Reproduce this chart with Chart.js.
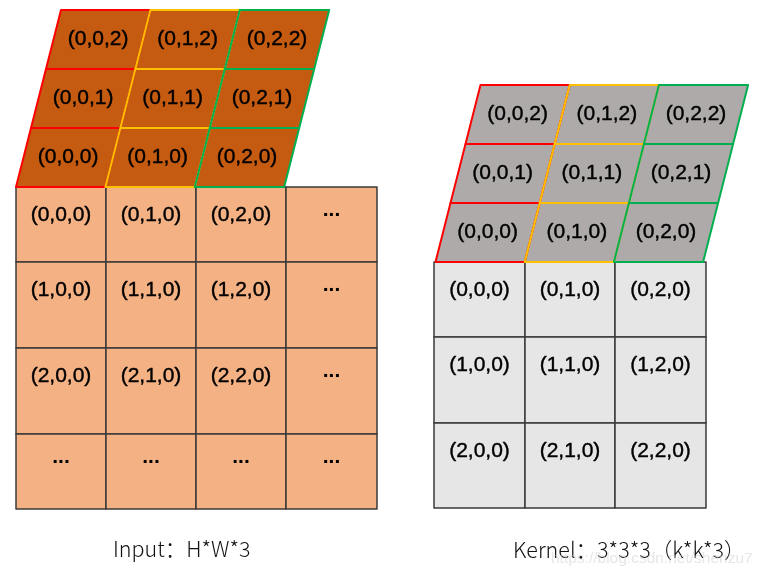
<!DOCTYPE html>
<html><head><meta charset="utf-8">
<script src="https://cdn.jsdelivr.net/npm/chart.js@4"></script>
<style>html,body{margin:0;padding:0;background:#fff}canvas{display:block}</style>
</head><body><canvas id="c" width="758" height="578"></canvas>
<script>
// ---- data (labels of each face, top row first) ----
const inputTopRows = [
  ["(0,0,2)", "(0,1,2)", "(0,2,2)"],
  ["(0,0,1)", "(0,1,1)", "(0,2,1)"],
  ["(0,0,0)", "(0,1,0)", "(0,2,0)"]
];
const inputFrontRows = [
  ["(0,0,0)", "(0,1,0)", "(0,2,0)", "..."],
  ["(1,0,0)", "(1,1,0)", "(1,2,0)", "..."],
  ["(2,0,0)", "(2,1,0)", "(2,2,0)", "..."],
  ["...", "...", "...", "..."]
];
const kernelTopRows = [
  ["(0,0,2)", "(0,1,2)", "(0,2,2)"],
  ["(0,0,1)", "(0,1,1)", "(0,2,1)"],
  ["(0,0,0)", "(0,1,0)", "(0,2,0)"]
];
const kernelFrontRows = [
  ["(0,0,0)", "(0,1,0)", "(0,2,0)"],
  ["(1,0,0)", "(1,1,0)", "(1,2,0)"],
  ["(2,0,0)", "(2,1,0)", "(2,2,0)"]
];
const captions = ["Input：H*W*3", "Kernel：3*3*3（k*k*3）"];
const watermark = "https://blog.csdn.net/shenzu7";

// ---- layout (in scale units) ----
const layout = {
  input: {
    frontX: [16, 106, 196, 286, 377], frontY: [187, 262, 348, 434, 509],
    topBase: 187, topRowH: 59, topLeft: 16, topColW: 89.4, skew: 15,
    topFill: "#C55A11", frontFill: "#F4B183", rows: inputTopRows, front: inputFrontRows
  },
  kernel: {
    frontX: [434, 525, 615, 706], frontY: [262, 337, 423, 508],
    topBase: 262, topRowH: 59, topLeft: 435.5, topColW: 89.2, skew: 15,
    topFill: "#AEAAAA", frontFill: "#E7E6E6", rows: kernelTopRows, front: kernelFrontRows
  },
  captionPos: [[113, 557], [513, 558]],
  watermarkPos: [551, 563],
  labelOffset: 28
};
const channelColors = ["#FF0000", "#FFC000", "#00B050"];

const diagramPlugin = {
  id: "diagram",
  afterDraw(chart) {
    const ctx = chart.ctx, xs = chart.scales.x, ys = chart.scales.y;
    const px = v => xs.getPixelForValue(v), py = v => ys.getPixelForValue(v);
    const poly = pts => { ctx.beginPath(); pts.forEach((p, i) => i ? ctx.lineTo(px(p[0]), py(p[1])) : ctx.moveTo(px(p[0]), py(p[1]))); ctx.closePath(); };
    const labelFont = '21px "Liberation Sans", Arial, sans-serif';
    const heavyText = (t, x, y) => {
      ctx.lineWidth = 0.4; ctx.strokeStyle = "#000"; ctx.lineJoin = "round";
      ctx.strokeText(t, x, y); ctx.fillText(t, x, y);
    };

    function drawBlock(b) {
      const nr = b.front.length, nc = b.front[0].length;
      for (let r = 0; r < nr; r++) for (let c = 0; c < nc; c++) {
        const x0 = b.frontX[c], x1 = b.frontX[c + 1], y0 = b.frontY[r], y1 = b.frontY[r + 1];
        poly([[x0, y0], [x1, y0], [x1, y1], [x0, y1]]);
        ctx.fillStyle = b.frontFill; ctx.fill();
        ctx.strokeStyle = "#3a3a3a"; ctx.lineWidth = 1.5; ctx.stroke();
        const t = b.front[r][c];
        ctx.fillStyle = "#000"; ctx.textAlign = "center";
        if (t === "...") {
          ctx.font = 'bold 21px "Liberation Sans", Arial, sans-serif';
          ctx.textBaseline = "alphabetic";
          ctx.fillText(t, px((x0 + x1) / 2), py(y0 + 27) + 2);
        } else {
          ctx.font = labelFont; ctx.textBaseline = "middle";
          heavyText(t, px((x0 + x1) / 2), py(y0 + layout.labelOffset));
        }
      }
      const corners = (r, c) => {
        const rb = b.rows.length - 1 - r;
        const yb = b.topBase - rb * b.topRowH, yt = yb - b.topRowH;
        const xb = b.topLeft + rb * b.skew, xt = xb + b.skew;
        return [[xb + c * b.topColW, yb], [xb + (c + 1) * b.topColW, yb], [xt + (c + 1) * b.topColW, yt], [xt + c * b.topColW, yt]];
      };
      for (let r = 0; r < b.rows.length; r++) for (let c = 0; c < 3; c++) {
        poly(corners(r, c)); ctx.fillStyle = b.topFill; ctx.fill();
      }
      for (let c = 0; c < 3; c++) for (let r = 0; r < b.rows.length; r++) {
        poly(corners(r, c)); ctx.strokeStyle = channelColors[c]; ctx.lineWidth = 2; ctx.stroke();
      }
      ctx.fillStyle = "#000"; ctx.font = labelFont; ctx.textAlign = "center"; ctx.textBaseline = "middle";
      for (let r = 0; r < b.rows.length; r++) for (let c = 0; c < 3; c++) {
        const p = corners(r, c);
        const cx = (p[0][0] + p[1][0] + p[2][0] + p[3][0]) / 4, cy = (p[0][1] + p[2][1]) / 2;
        heavyText(b.rows[r][c], px(cx), py(cy));
      }
    }
    ctx.save();
    drawBlock(layout.input);
    drawBlock(layout.kernel);
    ctx.font = '300 21.5px "Noto Sans CJK SC", sans-serif';
    ctx.textAlign = "left"; ctx.textBaseline = "alphabetic"; ctx.fillStyle = "#111";
    captions.forEach((t, i) => ctx.fillText(t, px(layout.captionPos[i][0]), py(layout.captionPos[i][1])));
    ctx.font = '15.5px "Liberation Sans", sans-serif'; ctx.fillStyle = "rgba(205,205,205,0.5)";
    ctx.fillText(watermark, px(layout.watermarkPos[0]), py(layout.watermarkPos[1]));
    ctx.restore();
  }
};

new Chart(document.getElementById("c"), {
  type: "scatter",
  data: { datasets: [{ data: [], pointRadius: 0 }] },
  options: {
    responsive: false, animation: false, devicePixelRatio: 1,
    layout: { padding: 0 },
    plugins: { legend: { display: false }, tooltip: { enabled: false } },
    scales: {
      x: { type: "linear", min: 0, max: 758, display: false },
      y: { type: "linear", min: 0, max: 578, reverse: true, display: false }
    }
  },
  plugins: [diagramPlugin]
});
</script></body></html>
